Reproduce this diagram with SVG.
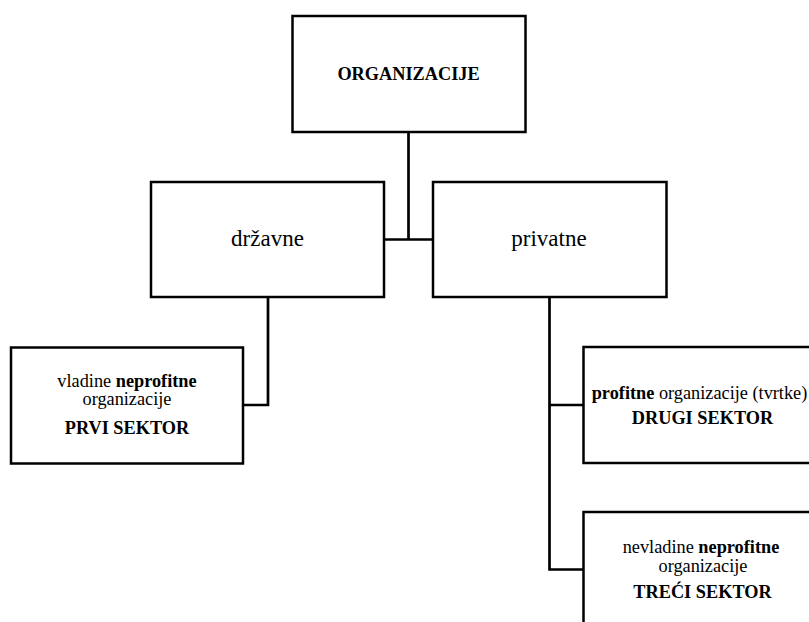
<svg xmlns="http://www.w3.org/2000/svg" width="809" height="622" viewBox="0 0 809 622">
<style>
.box{fill:#fff;stroke:#000;stroke-width:2.5}
.con{fill:none;stroke:#000;stroke-width:2.7}
text{font-family:'Liberation Serif','Tinos','DejaVu Serif',serif;fill:#000;text-anchor:middle}
.s{font-size:18.3px}
.b{font-weight:bold}
.l{font-size:23px}
</style>
<rect width="809" height="622" fill="#fff"/>
<g id="connectors">
<path class="con" d="M408.5 132 V239.5"/>
<path class="con" d="M384 239.5 H433"/>
<path class="con" d="M268 297 V405 H243"/>
<path class="con" d="M549.5 297 V569.5 H583"/>
<path class="con" d="M549.5 405 H583"/>
</g>
<g id="organizacije">
<rect class="box" x="292.5" y="16" width="233" height="116"/>
<text class="s b" x="408.5" y="80">ORGANIZACIJE</text>
</g>
<g id="drzavne">
<rect class="box" x="151" y="182" width="233" height="115"/>
<text class="l" x="267.5" y="246">državne</text>
</g>
<g id="privatne">
<rect class="box" x="433" y="182" width="233.5" height="115"/>
<text class="l" x="549" y="246">privatne</text>
</g>
<g id="prvi">
<rect class="box" x="11" y="347.5" width="232" height="116"/>
<text class="s" x="127" y="387">vladine <tspan class="b">neprofitne</tspan></text>
<text class="s" x="127" y="405">organizacije</text>
<text class="s b" x="127" y="434">PRVI SEKTOR</text>
</g>
<g id="drugi">
<rect class="box" x="583.5" y="347" width="240" height="116"/>
<text class="s" x="699.5" y="399"><tspan class="b">profitne</tspan> organizacije (tvrtke)</text>
<text class="s b" x="702.5" y="424">DRUGI SEKTOR</text>
</g>
<g id="treci">
<rect class="box" x="583.5" y="512" width="240" height="130"/>
<text class="s" x="701" y="553">nevladine <tspan class="b">neprofitne</tspan></text>
<text class="s" x="703" y="572">organizacije</text>
<text class="s b" x="702.5" y="598">TREĆI SEKTOR</text>
</g>
</svg>
